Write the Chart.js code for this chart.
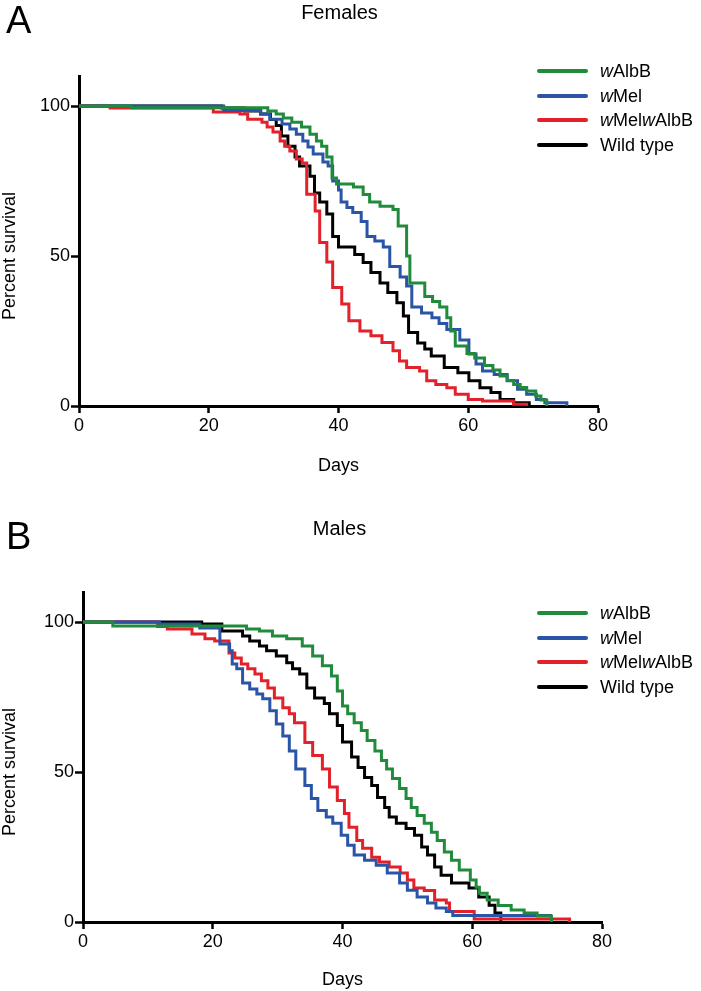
<!DOCTYPE html>
<html>
<head>
<meta charset="utf-8">
<script src="https://cdn.jsdelivr.net/npm/chart.js@4.4.0/dist/chart.umd.min.js"></script>
<style>
  body { margin: 0; background: #fff; width: 701px; height: 991px; position: relative; overflow: hidden;
         font-family: "Liberation Sans", Arial, sans-serif; color: #000; }
  .panel { position: absolute; left: 0; width: 701px; height: 475px; }
  .panel canvas { position: absolute; left: 0; top: 0; }
  .letter { position: absolute; left: 6px; font-size: 38px; line-height: 38px; }
  .title { position: absolute; left: 0; width: 679px; text-align: center; font-size: 20px; line-height: 24px; }
  .ytitle { position: absolute; left: 9px; font-size: 18px; white-space: nowrap;
            transform: translate(-50%, -50%) rotate(-90deg); }
  .legend { position: absolute; font-size: 18px; }
  .legend div { height: 24.5px; line-height: 24.5px; white-space: nowrap; }
  .legend span.swatch { display: inline-block; width: 51px; height: 4px; border-radius: 2px;
                        vertical-align: middle; margin-right: 12px; position: relative; top: -1px; }
</style>
</head>
<body>

<div class="panel" id="panelA" style="top:0px">
  <canvas id="chartA" width="701" height="485"></canvas>
  <div class="letter" style="top:1px">A</div>
  <div class="title" style="top:0px">Females</div>
  <div class="ytitle" style="top:256px">Percent survival</div>
  <div class="legend" id="legendA" style="left:537px; top:59px"></div>
</div>

<div class="panel" id="panelB" style="top:516px">
  <canvas id="chartB" width="701" height="475"></canvas>
  <div class="letter" style="top:1px">B</div>
  <div class="title" style="top:0px">Males</div>
  <div class="ytitle" style="top:256px">Percent survival</div>
  <div class="legend" id="legendB" style="left:537px; top:85px"></div>
</div>

<script>
// ===== Survival curves (day, percent surviving) =====

const seriesNames = ['wAlbB', 'wMel', 'wMelwAlbB', 'Wild type'];
const seriesColors = ['#1f8b3b', '#2a55a6', '#e2212b', '#000000'];

const xTicks = [0, 20, 40, 60, 80];
const yTicks = [0, 50, 100];

// Females
const femAlbB = [[0,100],[8,99.4],[29.1,98.3],[30.4,97.3],[31.5,96],[32.8,94.6],[34.3,93],[35.6,90.6],[36.6,88.3],
  [37.4,86.6],[38.2,83],[39,76],[39.7,74],[42.3,73],[43.8,70.5],[44.8,68],[46.4,66.6],[48.4,65.5],
  [49.2,60],[50.5,50],[51,41],[53.3,36.5],[54.5,34.8],[55.6,33],[56.7,29.4],[57.3,25],[58,20],
  [59.8,17.5],[61,16],[62.5,13.5],[63.8,12],[64.9,10],[66,8.5],[67,7.2],[68,6.2],[69,5],[70.4,3.3],
  [71.2,2],[72.1,0]];
const femMel = [[0,100],[22.3,98.5],[28,97.3],[29.4,95.6],[31.3,94],[32.5,92.3],[33.5,90.6],[34.5,88.3],
  [35.3,86.3],[36.1,84],[37.6,81.3],[38.4,80],[39.1,75],[40,72],[40.4,68],[41.3,66.2],[42.2,64.5],
  [43.5,61.5],[44.4,56.5],[45.6,55],[46.9,53],[47.9,46.5],[49.5,43],[50.5,40],[51.3,33],[52.8,31],
  [54.4,29.4],[55.5,27.5],[56.7,25.5],[58.7,22],[60.1,17.3],[61.2,14],[62.2,11.7],[64,10.5],[66,8.4],
  [67.6,5.6],[69,3.9],[70.5,2.2],[71.8,1.1],[75.2,0]];
const femMelAlbB = [[0,100],[4.8,99.3],[20.7,98],[24.8,97.3],[26,95.6],[28.2,94.6],[29,93],[29.9,91.3],
  [31,88.3],[31.7,86.6],[32.5,85],[33.5,82.3],[34.4,81],[35.1,70.6],[36.4,65],[37.1,54.5],[38.2,48],
  [39.1,39.5],[40.5,34],[41.6,28.4],[43.3,25],[45,23.4],[46.7,21.2],[48.4,18.4],[49.4,15],[50.5,12.8],
  [52.5,11.7],[53.6,8.4],[55,7.2],[56.7,6.1],[58,3.9],[60,2.2],[62.2,1.7],[67,0.6],[69,0]];
const femWild = [[0,100],[22,99.3],[25.5,98.3],[28,97.3],[29.5,95.5],[30.4,93.5],[31.2,90],[32.2,86.6],
  [33.3,83],[34,80],[35.6,76.6],[36.3,71],[37.1,68],[38.2,64],[39.1,56.5],[40,53],[42.5,50.5],
  [43.8,47.8],[45,44.5],[46.4,41],[47.6,37.8],[49,34.4],[50,30],[50.8,24.5],[52.2,21],[53.3,19],
  [54.3,16.7],[56.3,12.8],[58.4,11.1],[60.1,8.4],[61.8,6.1],[63.5,4.5],[64.9,2.2],[67,1.1],[69.4,0]];

// Males
const maleAlbB = [[0,100],[4.6,98.7],[25.2,97.7],[27.2,97],[29.2,95.3],[31.4,94.4],[33.8,92],[35.4,88.7],
  [36.9,85.4],[38.3,82],[39.2,77],[40,72],[40.8,69.4],[41.8,66.4],[42.9,63.8],[43.8,60.5],[45,57],
  [46,53.8],[46.8,51],[47.7,47.8],[48.8,44.5],[49.8,41.2],[50.6,38.2],[51.5,35.5],[52.6,32.9],
  [53.7,29.9],[54.6,27.2],[55.7,23.3],[56.8,20.6],[58,17.3],[59.7,14],[60.6,11.6],[61.1,9.6],
  [62.3,7.3],[64,5.5],[66,4],[68,3],[70,2],[72.2,0]];
const maleMel = [[0,100],[11.8,99.3],[18,98],[21.1,92.7],[22.6,90.4],[23,86],[23.7,84.4],[24.6,79.7],
  [25.7,77.7],[26.8,76],[27.7,74.4],[28.8,70.4],[29.8,66],[30.8,62],[31.8,57],[32.8,51],[34.2,45.5],
  [35.2,41.2],[36.2,37.2],[37.5,35],[38.5,32.9],[39.8,28.9],[40.8,25.6],[41.8,22.3],[43.4,20.6],
  [45.2,18.9],[46.9,16.3],[48.8,13],[50,10.6],[51.5,8.3],[53.1,6.3],[54.4,4.7],[56,3.5],[57,2.2],
  [72.3,2.2]];
const maleMelAlbB = [[0,100],[11.5,98.5],[13,97.7],[16.8,96],[18.8,94.4],[20.3,93.7],[22.5,89.7],
  [23.4,88],[24.4,86],[25.4,84.4],[26.5,82.7],[27.5,80.4],[28.5,78],[29.5,74.7],[30.8,71.4],
  [31.8,69.4],[32.6,66.4],[34.2,59.8],[35.4,55.5],[36.9,51],[38,45],[39.2,40.5],[40.3,36.2],
  [41,31.6],[42.2,27.2],[43.1,24.6],[44.5,21.6],[45.7,20],[47.2,18.3],[48.9,16.3],[50,14],[51,11.3],
  [52.6,10.5],[54.2,7.3],[56,6.3],[56.5,3.5],[60.3,1],[75,0]];
const maleWild = [[0,100],[18.3,99.3],[21.4,97],[24.6,95.3],[25.7,93.7],[27.2,92],[28.3,90.4],
  [29.8,88.7],[31.4,86.4],[32.3,84.4],[33.4,82.7],[34.5,78],[35.7,74.7],[37.2,72.8],[38,69.4],
  [39.2,65.5],[40,60],[41.4,55],[42.4,51.5],[43.4,48.2],[44.5,45.5],[45.4,41.5],[46.5,38.2],
  [47.2,35],[48.3,32.9],[49.8,31.2],[51.1,28.9],[52.2,25],[53.1,22.3],[54.2,18.3],[55.2,15.6],
  [56.8,13],[59.5,11.3],[61,8.3],[62.6,5.6],[63.5,3],[64.4,0]];

const femaleSeries = [femAlbB, femMel, femMelAlbB, femWild];
const maleSeries = [maleAlbB, maleMel, maleMelAlbB, maleWild];

const FONT = '"Liberation Sans", Arial, sans-serif';

// Build one Kaplan-Meier style panel
function makePanel(canvasId, seriesList, leftEdge, rightPad, axisHeight, daysPad) {
  const ctx = document.getElementById(canvasId).getContext('2d');
  const datasets = seriesList.map((pts, i) => ({
    label: seriesNames[i],
    data: pts.map(p => ({ x: p[0], y: p[1] })),
    borderColor: seriesColors[i],
    borderWidth: 3,
    stepped: true,
    pointRadius: 0,
    fill: false,
    borderJoinStyle: 'miter',
    borderCapStyle: 'butt',
    order: i
  }));

  return new Chart(ctx, {
    type: 'line',
    data: { datasets },
    options: {
      responsive: false,
      animation: false,
      devicePixelRatio: 1,
      layout: { padding: { left: 0, right: rightPad, top: 76, bottom: 0 } },
      plugins: { legend: { display: false }, tooltip: { enabled: false }, title: { display: false } },
      scales: {
        x: {
          type: 'linear',
          min: 0, max: 80,
          afterBuildTicks: s => { s.ticks = xTicks.map(v => ({ value: v })); },
          afterFit: s => { s.height = axisHeight; },
          border: { display: true, color: '#000', width: 3 },
          grid: { drawOnChartArea: false, drawTicks: true, tickLength: 7, tickColor: '#000', tickWidth: 2.5 },
          ticks: { color: '#000', font: { family: FONT, size: 18 }, padding: 2, maxRotation: 0 },
          title: { display: true, text: 'Days', color: '#000', font: { family: FONT, size: 18 }, padding: { top: 0, bottom: daysPad } }
        },
        y: {
          type: 'linear',
          min: 0, max: 110,
          afterBuildTicks: s => { s.ticks = yTicks.map(v => ({ value: v })); },
          afterFit: s => { s.width = leftEdge; },
          border: { display: true, color: '#000', width: 3 },
          grid: { drawOnChartArea: false, drawTicks: true, tickLength: 8, tickColor: '#000', tickWidth: 2.5 },
          ticks: { color: '#000', font: { family: FONT, size: 18 }, padding: 1 }
        }
      }
    }
  });
}

// HTML legend so the italic "w" can be kept as real text
function makeLegend(elId) {
  const el = document.getElementById(elId);
  const labels = ['<i>w</i>AlbB', '<i>w</i>Mel', '<i>w</i>Mel<i>w</i>AlbB', 'Wild type'];
  el.innerHTML = labels.map((t, i) =>
    `<div><span class="swatch" style="background:${seriesColors[i]}"></span>${t}</div>`).join('');
}

makePanel('chartA', femaleSeries, 79, 103, 79, 8);
makePanel('chartB', maleSeries, 83, 99, 69, 0);
makeLegend('legendA');
makeLegend('legendB');
</script>
</body>
</html>
